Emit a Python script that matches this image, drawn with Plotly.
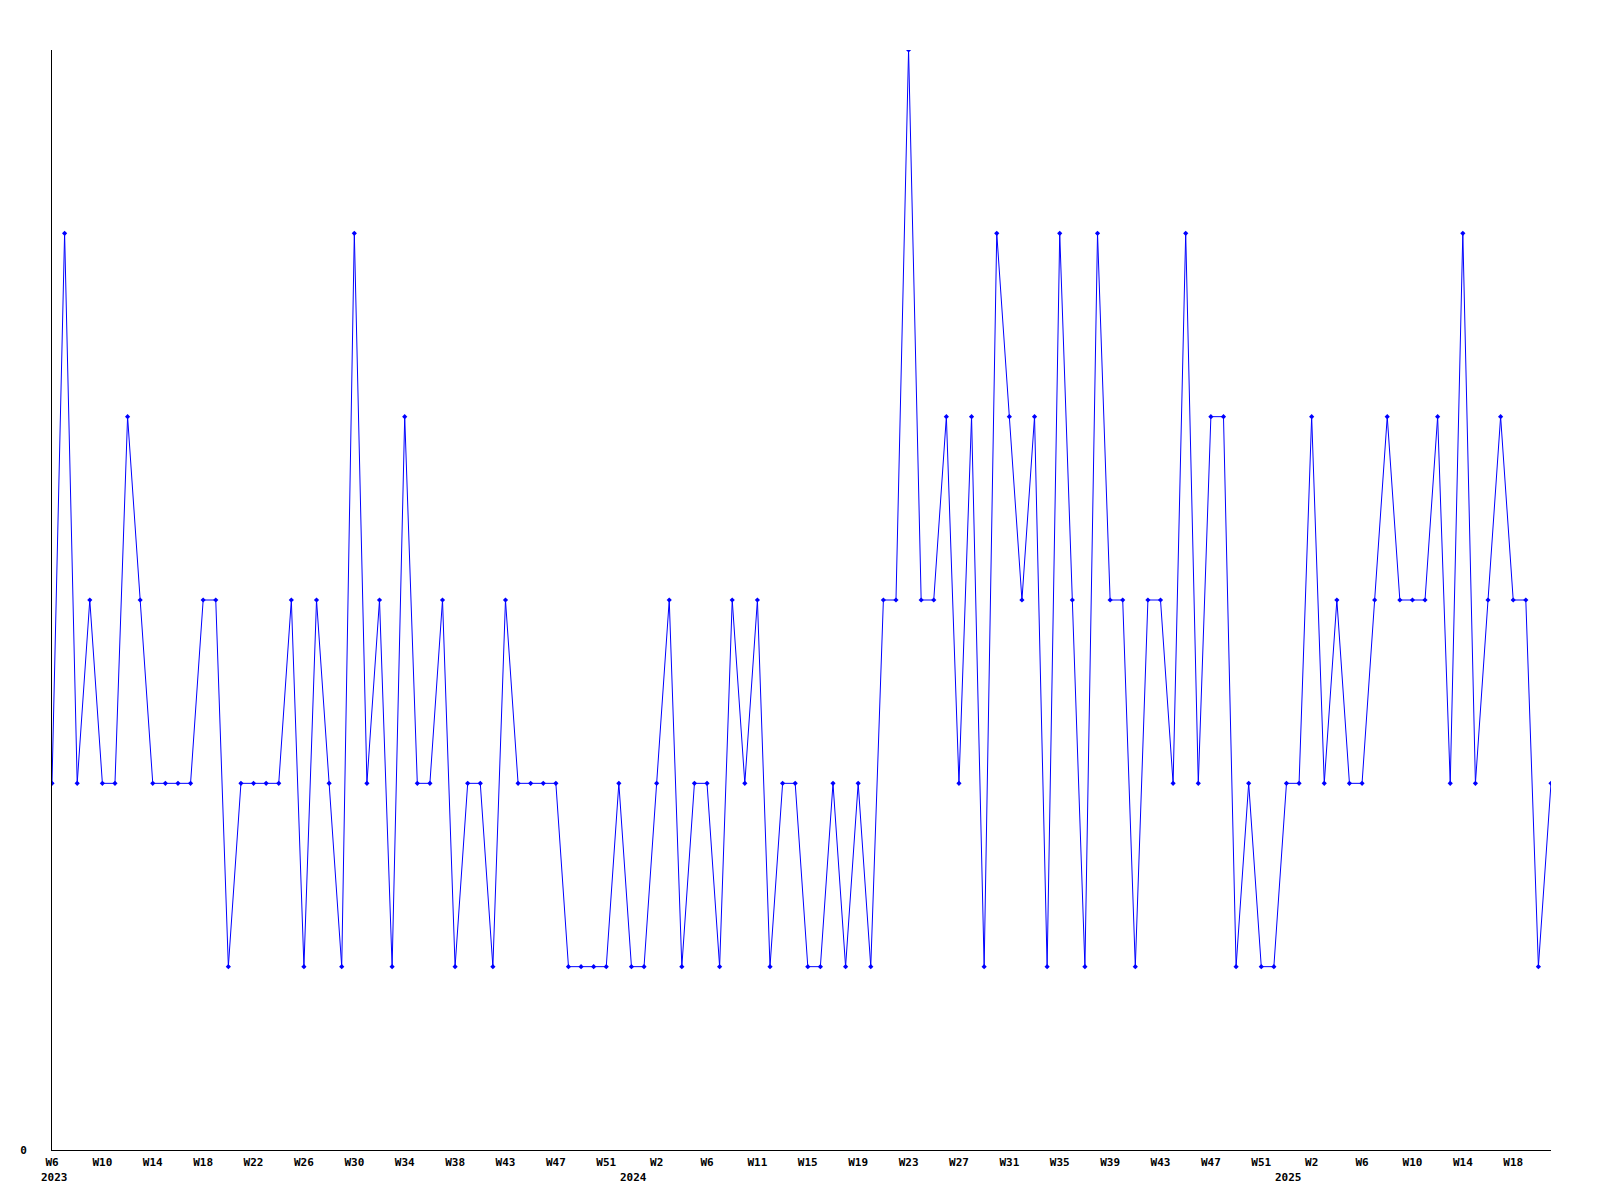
import plotly.graph_objects as go

# Weekly values, 2023 W6 .. 2025 (120 weekly points)
values = [
    2, 5, 2, 3, 2, 2, 4, 3, 2, 2, 2, 2, 3, 3, 1, 2, 2, 2, 2, 3,
    1, 3, 2, 1, 5, 2, 3, 1, 4, 2, 2, 3, 1, 2, 2, 1, 3, 2, 2, 2,
    2, 1, 1, 1, 1, 2, 1, 1, 2, 3, 1, 2, 2, 1, 3, 2, 3, 1, 2, 2,
    1, 1, 2, 1, 2, 1, 3, 3, 6, 3, 3, 4, 2, 4, 1, 5, 4, 3, 4, 1,
    5, 3, 1, 5, 3, 3, 1, 3, 3, 2, 5, 2, 4, 4, 1, 2, 1, 1, 2, 2,
    4, 2, 3, 2, 2, 3, 4, 3, 3, 3, 4, 2, 5, 2, 3, 4, 3, 3, 1, 2,
]
week_index = list(range(len(values)))

# Tick labels every 4th point
tick_positions = list(range(0, 117, 4))
tick_labels = [
    "W6", "W10", "W14", "W18", "W22", "W26", "W30", "W34", "W38", "W43",
    "W47", "W51", "W2", "W6", "W11", "W15", "W19", "W23", "W27", "W31",
    "W35", "W39", "W43", "W47", "W51", "W2", "W6", "W10", "W14", "W18",
]

# Year labels (placed at the start of each year on the week axis)
year_labels = ["2023", "2024", "2025"]
year_positions = [0.2, 46.2, 98.2]

tick_font = dict(family="DejaVu Sans Mono", size=11, color="black", weight="bold")

fig = go.Figure()
fig.add_trace(go.Scatter(
    x=week_index,
    y=values,
    mode="lines+markers",
    line=dict(color="#0000ff", width=1),
    marker=dict(color="#0000ff", size=4, symbol="diamond"),
    showlegend=False,
    hoverinfo="x+y",
))

for label, pos in zip(year_labels, year_positions):
    fig.add_annotation(
        x=pos, xref="x",
        y=0, yref="paper",
        text=label,
        showarrow=False,
        xanchor="center", yanchor="middle",
        yshift=-27,
        font=tick_font,
    )

fig.update_layout(
    width=1592,
    height=1192,
    margin=dict(l=42, r=49, t=42, b=50),
    paper_bgcolor="white",
    plot_bgcolor="white",
    showlegend=False,
)

fig.update_xaxes(
    range=[0, 119],
    tickmode="array",
    tickvals=tick_positions,
    ticktext=tick_labels,
    showgrid=False,
    zeroline=False,
    showline=True,
    linecolor="black",
    linewidth=1,
    ticks="",
    tickfont=tick_font,
    ticklabelstandoff=2,
)

fig.update_yaxes(
    range=[0, 6],
    tickmode="array",
    tickvals=[0],
    ticktext=["0"],
    showgrid=False,
    zeroline=False,
    showline=True,
    linecolor="black",
    linewidth=1,
    ticks="",
    tickfont=tick_font,
    ticklabelstandoff=22,
)

fig.write_html("out.html")
